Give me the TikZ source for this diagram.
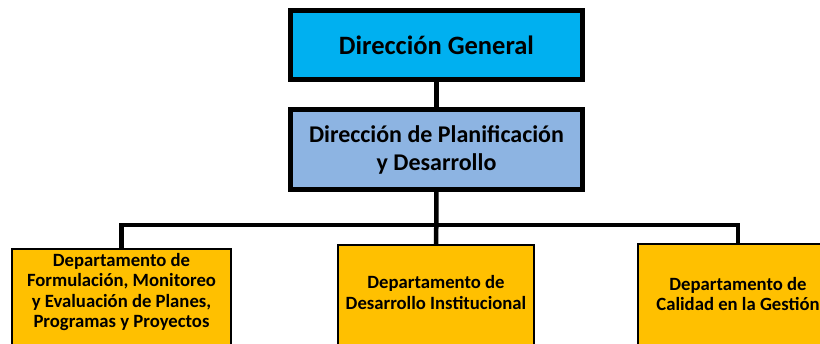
\documentclass[tikz,border=0pt]{standalone}
\usepackage{fontspec}
\setmainfont{Carlito}
\usepackage{tikz}
\usetikzlibrary{positioning}
\definecolor{dgcyan}{HTML}{00B0F0}
\definecolor{dpdblue}{HTML}{8DB4E2}
\definecolor{deptgold}{HTML}{FFC000}

\begin{document}
\begin{tikzpicture}[x=1pt, y=-1pt,
  topbox/.style={draw=black, line width=5pt, minimum width=292pt, align=center,
    font=\fontsize{24}{28}\selectfont\bfseries, inner sep=0pt},
  deptbox/.style={draw=black, line width=2pt, fill=deptgold, minimum height=120pt,
    anchor=north, inner sep=0pt},
  depttext/.style={align=center, font=\fontsize{18.7}{20.5}\selectfont\bfseries, inner sep=0pt},
  conn/.style={line width=4.5pt}
]
  \useasboundingbox (0,0) rectangle (820,344);
  \clip (0,0) rectangle (820,344);

  \node[topbox, fill=dgcyan, minimum height=69pt, font=\fontsize{26.5}{30}\selectfont\bfseries]
    (dg) at (436.5, 45) {Dirección General};
  \node[topbox, fill=dpdblue, minimum height=80pt] (dpd) at (436.5, 149.5)
    {Dirección de Planificación\\y Desarrollo};

  \node[deptbox, minimum width=219pt] (dep1) at (121.5, 248) {};
  \node[deptbox, minimum width=196pt] (dep2) at (436, 244) {};
  \node[deptbox, minimum width=200pt] (dep3) at (738, 243) {};

  \node[depttext] (dep1t) at (121.5, 292)
    {Departamento de\\Formulación, Monitoreo\\y Evaluación de Planes,\\Programas y Proyectos};
  \node[depttext] (dep2t) at (436, 292.5) {Departamento de\\Desarrollo Institucional};
  \node[depttext] (dep3t) at (738, 294) {Departamento de\\Calidad en la Gestión};

  \coordinate (bus) at (436.5, 225);
  \draw[conn] (dg) -- (dpd);
  \draw[conn] (dpd) -- (dep2);
  \draw[conn] (dep1.north) |- (bus) -| (dep3.north);
\end{tikzpicture}
\end{document}
